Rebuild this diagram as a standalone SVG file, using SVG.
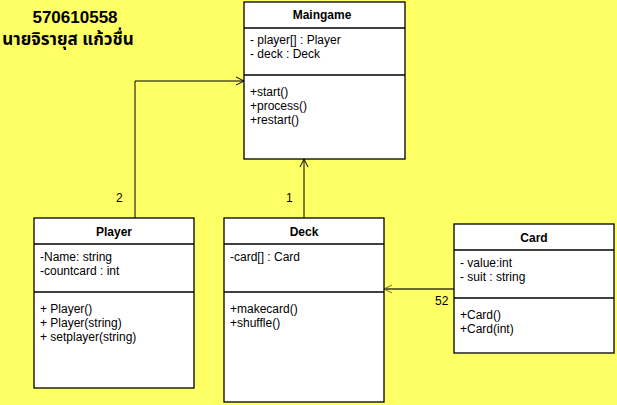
<svg xmlns="http://www.w3.org/2000/svg" width="617" height="405" viewBox="0 0 617 405">
<style>
.box{fill:#fff;stroke:#000;stroke-width:1.3}
.ln{stroke:#000;stroke-width:1.3}
.t{font-family:"Liberation Sans",Arial,sans-serif;font-size:12px;fill:#000}
.h{font-family:"Liberation Sans",Arial,sans-serif;font-size:12px;font-weight:bold;fill:#000;text-anchor:middle}
.c{fill:none;stroke:#000;stroke-width:1}
</style>
<defs>
<marker id="arr" markerWidth="10" markerHeight="10" refX="9" refY="5" orient="auto" markerUnits="userSpaceOnUse">
<path d="M1,1 L9,5 L1,9" fill="none" stroke="#000" stroke-width="1"/>
</marker>
<marker id="arr2" markerWidth="10" markerHeight="10" refX="9" refY="5" orient="auto" markerUnits="userSpaceOnUse">
<path d="M1,1 L9,5 L1,9" fill="none" stroke="#6d6d2a" stroke-width="1"/>
</marker>
</defs>
<rect width="617" height="405" fill="#FFFF66"/>
<g id="title">
<text x="75" y="23" style="font-family:'Liberation Sans',Arial,sans-serif;font-size:17px;font-weight:bold;text-anchor:middle">570610558</text>
<text x="68" y="45" style="font-family:'Noto Sans Thai','Noto Sans','DejaVu Sans',sans-serif;font-size:17px;font-weight:bold;text-anchor:middle">นายจิรายุส แก้วชื่น</text>
</g>
<g id="connectors">
<polyline class="c" points="135,218 135,81 244,81" marker-end="url(#arr)"/>
<line class="c" x1="304" y1="218" x2="304" y2="159" marker-end="url(#arr)"/>
<line x1="454" y1="289" x2="384" y2="289" stroke="#6d6d2a" stroke-width="2" marker-end="url(#arr2)"/>
<text class="t" x="116" y="202">2</text>
<text class="t" x="286" y="202">1</text>
<text class="t" x="435" y="305">52</text>
</g>
<g id="Maingame">
<rect class="box" x="244" y="2" width="161" height="157"/>
<line class="ln" x1="244" y1="28" x2="405" y2="28"/>
<line class="ln" x1="244" y1="75" x2="405" y2="75"/>
<text class="h" x="322" y="19">Maingame</text>
<text class="t" x="250" y="44">- player[] : Player</text>
<text class="t" x="250" y="58">- deck : Deck</text>
<text class="t" x="250" y="96">+start()</text>
<text class="t" x="250" y="110">+process()</text>
<text class="t" x="250" y="124">+restart()</text>
</g>
<g id="Player">
<rect class="box" x="34" y="218" width="160" height="170"/>
<line class="ln" x1="34" y1="244" x2="194" y2="244"/>
<line class="ln" x1="34" y1="292" x2="194" y2="292"/>
<text class="h" x="114" y="236">Player</text>
<text class="t" x="40" y="261">-Name: string</text>
<text class="t" x="40" y="275">-countcard : int</text>
<text class="t" x="40" y="313">+ Player()</text>
<text class="t" x="40" y="327">+ Player(string)</text>
<text class="t" x="40" y="341">+ setplayer(string)</text>
</g>
<g id="Deck">
<rect class="box" x="224" y="218" width="160" height="184"/>
<line class="ln" x1="224" y1="244" x2="384" y2="244"/>
<line class="ln" x1="224" y1="292" x2="384" y2="292"/>
<text class="h" x="304" y="236">Deck</text>
<text class="t" x="230" y="261">-card[] : Card</text>
<text class="t" x="230" y="313">+makecard()</text>
<text class="t" x="230" y="327">+shuffle()</text>
</g>
<g id="Card">
<rect class="box" x="454" y="224" width="160" height="129"/>
<line class="ln" x1="454" y1="250" x2="614" y2="250"/>
<line class="ln" x1="454" y1="298" x2="614" y2="298"/>
<text class="h" x="534" y="242">Card</text>
<text class="t" x="460" y="267">- value:int</text>
<text class="t" x="460" y="281">- suit : string</text>
<text class="t" x="460" y="319">+Card()</text>
<text class="t" x="460" y="333">+Card(int)</text>
</g>
</svg>
